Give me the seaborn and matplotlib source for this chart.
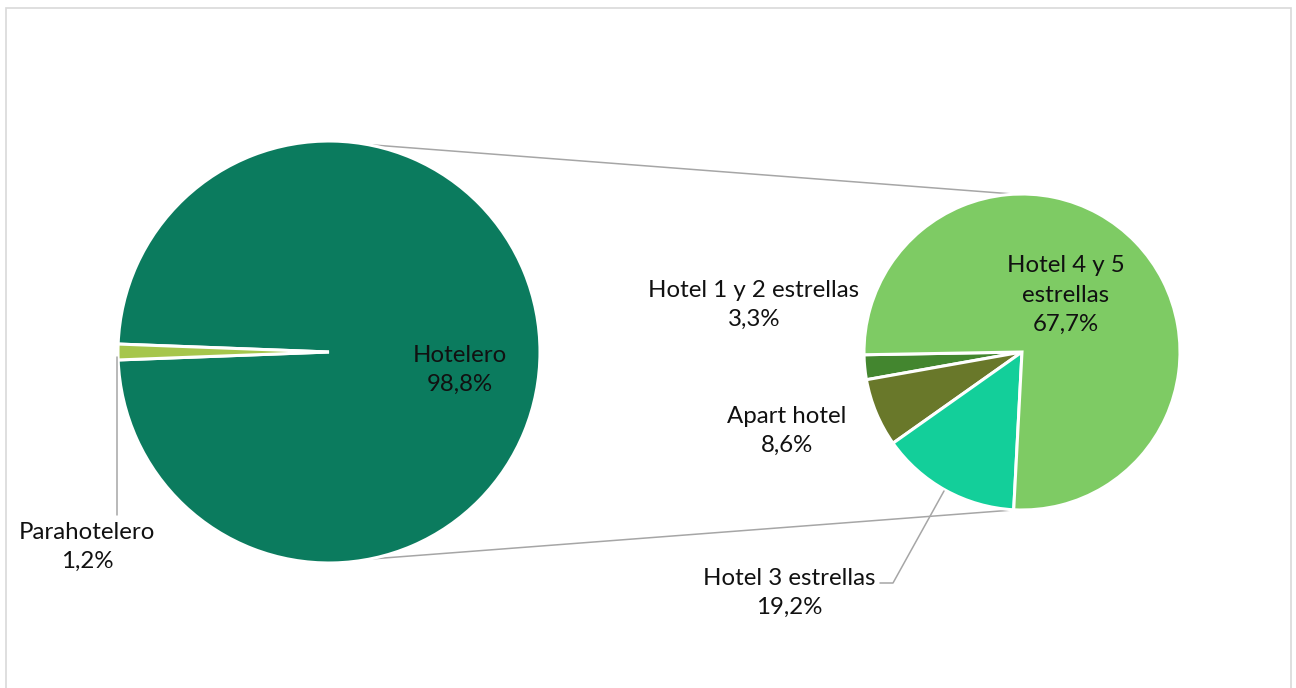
import numpy as np
import seaborn as sns
import matplotlib.pyplot as plt
from matplotlib.patches import Rectangle

# main pie
main_labels = ["Hotelero", "Parahotelero"]
main_pct = [98.8, 1.2]

# breakdown of "Hotelero" (labels as printed on the chart)
sub_labels = ["Hotel 1 y 2\nestrellas", "Apart hotel", "Hotel 3 estrellas", "Hotel 4 y 5\nestrellas"]
sub_pct = [3.3, 8.6, 19.2, 67.7]
# wedge sizes as they are drawn in the picture (they don't follow the printed labels)
sub_drawn = [2.5, 6.9, 14.2, 75.2]

main_colors = ["#0B7B5E", "#A6C64C"]
sub_colors = ["#43862F", "#69782A", "#13CF9A", "#7ECB64"]

sns.set_style("white")
plt.rcParams["font.family"] = ["Lato", "DejaVu Sans"]

W, H = 1296, 688
fig = plt.figure(figsize=(W / 100, H / 100), dpi=100)
ax = fig.add_axes([0, 0, 1, 1])

c1, r1 = (329, 336), 211
c2, r2 = (1022, 336), 158

wp = dict(edgecolor="white", linewidth=2.2)
ax.pie(main_pct, colors=main_colors, center=c1, radius=r1,
       startangle=180 + main_pct[1] * 3.6 / 2, wedgeprops=wp, frame=True)
ax.pie(sub_drawn, colors=sub_colors, center=c2, radius=r2,
       startangle=181, wedgeprops=wp, frame=True)
ax.set_xlim(0, W)
ax.set_ylim(0, H)
ax.set_aspect("equal")
ax.axis("off")


def pt(c, r, ang):
    a = np.deg2rad(ang)
    return c[0] + r * np.cos(a), c[1] + r * np.sin(a)


gray = "#A6A6A6"
# connector lines between the two pies
for a1, a2 in [(79.5, 92.5), (-79, -92.5)]:
    p1, p2 = pt(c1, r1, a1), pt(c2, r2, a2)
    ax.plot([p1[0], p2[0]], [p1[1], p2[1]], color=gray, lw=1.1, zorder=0)

fs = 17.3
ls = 1.5


def lab(x, y, name, v):
    ax.text(x, y, f"{name}\n{v:.1f}%".replace(".", ","), ha="center", va="center",
            fontsize=fs, linespacing=ls, color="#111111")


lab(460, H - 370, main_labels[0], main_pct[0])
lab(87, H - 547, main_labels[1], main_pct[1])
lab(754, H - 305, sub_labels[0].replace("\n", " "), sub_pct[0])
lab(787, H - 431, sub_labels[1], sub_pct[1])
lab(789, H - 593, sub_labels[2], sub_pct[2])
lab(1066, H - 295, sub_labels[3], sub_pct[3])

# leader lines
ax.plot([117, 117], [H - 357, H - 515], color=gray, lw=1.1)
ax.plot([944, 893, 880], [H - 491, H - 583, H - 583], color=gray, lw=1.1)

# chart border
ax.add_patch(Rectangle((6, -10), 1285, H - 8 + 10, fill=False,
                       edgecolor="#D9D9D9", lw=1.2))

fig.savefig("out.png", dpi=100, facecolor="white")
